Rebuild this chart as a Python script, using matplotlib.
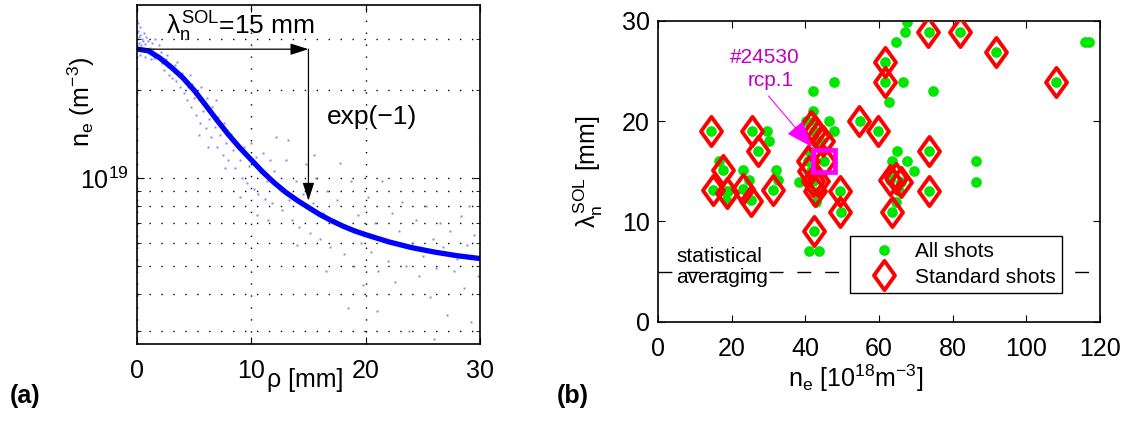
import numpy as np
import matplotlib
matplotlib.use('Agg')
import matplotlib.pyplot as plt
from matplotlib.path import Path
from matplotlib.markers import MarkerStyle
from matplotlib.lines import Line2D
from matplotlib.ticker import NullFormatter, FixedLocator

plt.rcParams['font.family'] = ['Liberation Sans', 'DejaVu Sans']
plt.rcParams['mathtext.fontset'] = 'custom'
plt.rcParams['mathtext.rm'] = 'Liberation Sans'
plt.rcParams['mathtext.it'] = 'Liberation Sans'
plt.rcParams['mathtext.bf'] = 'Liberation Sans:bold'
plt.rcParams['mathtext.sf'] = 'Liberation Sans'

# ---- panel (a): fitted profile (rho in mm, ne in 1e18 m^-3)
rho_fit = [0, 1, 2, 3, 4, 5, 6, 7, 8, 9, 10, 11, 12, 13, 14, 15, 16, 17, 18, 19, 20, 22, 24, 26, 28, 30]
ne_fit = [27.7, 27.3, 25.8, 24.0, 22.1, 20.0, 17.8, 15.8, 14.1, 12.7, 11.55, 10.5, 9.65, 8.95, 8.4, 7.93,
          7.5, 7.15, 6.85, 6.6, 6.4, 6.05, 5.78, 5.58, 5.42, 5.3]

# raw probe samples (rho, ne)
raw_rho = [0.05, 0.1, 0.15, 0.2, 0.25, 0.3, 0.35, 0.4, 0.5, 0.55, 0.6, 0.7, 0.8, 0.9, 1.0, 1.1, 1.2, 1.3, 1.4, 1.6,
           1.7, 1.9, 2.0, 2.1, 0.3, 0.7, 1.2, 1.5,
           2.2, 2.4, 2.5, 2.7, 2.8, 3.0, 3.1, 3.3, 3.4, 3.6, 3.8, 3.9, 4.1, 4.2, 4.4, 4.5, 4.7, 4.8, 5.0, 2.6, 3.5, 4.6,
           5.2, 5.3, 5.5, 5.6, 5.8, 6.0, 6.1, 6.3, 6.5, 6.6, 6.8, 7.0, 7.1, 7.3, 7.5, 7.6, 7.8, 8.0, 5.4, 6.2, 6.9, 7.7,
           8.2, 8.4, 8.6, 8.8, 9.0, 9.2, 9.4, 9.6, 9.8, 10.0, 10.2, 10.4, 10.6, 10.8, 11.0, 11.2, 11.4, 11.6, 11.8, 12.0,
           9.0, 10.5, 11.5, 12.2,
           12.4, 12.7, 13.0, 13.3, 13.6, 13.9, 14.2, 14.5, 14.8, 15.1, 15.4, 15.7, 16.0, 16.3, 16.6, 16.9, 17.2, 17.5,
           17.8, 18.1, 18.4, 18.7, 19.0, 19.3, 19.6, 19.8, 16.5, 18.5, 14.0, 13.2, 15.5,
           20.2, 20.5, 20.8, 21.1, 21.4, 21.7, 22.0, 22.3, 22.6, 22.9, 23.2, 23.5, 23.8, 24.1, 24.4, 24.7, 25.0, 25.3,
           25.6, 25.9, 26.2, 26.5, 26.8, 27.1, 27.4, 27.7, 28.0, 28.3, 28.6, 28.9, 29.2, 29.5, 29.8, 21.0, 26.0, 29.0]
raw_ne = [34, 32, 30.5, 29, 33, 31, 28.5, 30, 29.5, 27.5, 31.5, 28.8, 30.5, 27.2, 29.5, 28, 26.8, 29, 27.8, 30,
          26.5, 28.5, 25.8, 27, 26.5, 26, 25.5, 25.8,
          24.8, 23.5, 25.5, 24, 22.5, 23.8, 22, 24.5, 21.5, 22.5, 20.5, 23, 19.5, 21.8, 18.5, 20.5, 17.5, 21, 18.8, 26.5, 25, 22.5,
          16.5, 19.5, 15.5, 20.5, 17, 14.8, 18.8, 16, 13.8, 17.5, 15, 12.8, 16.2, 14, 12, 15.5, 13.2, 11.5, 14, 12.8, 18.5, 10.8,
          14.2, 12.5, 10.8, 13, 11.5, 10, 12.8, 9.6, 11, 13.2, 9.2, 11.8, 8.8, 10.5, 12.2, 8.5, 9.8, 11.5, 8.2, 10.6,
          8.6, 7.5, 7.2, 13.8,
          9.2, 7.8, 11.5, 8.4, 7.2, 9.8, 6.8, 8.8, 11.2, 6.5, 8.2, 10, 6.2, 7.6, 9, 5.8, 7.2, 8.4,
          11.3, 5.5, 6.8, 9.8, 5.0, 7.5, 6.0, 4.3, 4.8, 3.6, 5.9, 13.5, 12.0,
          8.6, 5.6, 7.0, 4.8, 9.8, 6.2, 5.2, 7.6, 4.4, 6.6, 8.3, 5.0, 3.0, 6.0, 7.2, 4.6, 5.4, 8.0,
          3.9, 6.2, 4.9, 7.0, 5.8, 3.4, 6.6, 4.8, 5.3, 7.4, 4.2, 5.9, 3.2, 6.4, 4.6, 3.5, 2.8, 8.0]

# ---- panel (b): decay lengths vs density
all_ne = [14.3, 16.6, 15.0, 17.7, 18.2, 19.1, 18.5, 23.0, 23.0, 24.8, 25.4, 25.3, 27.2, 29.7, 30.1, 31.3, 32.0, 32.5,
          37.9, 38.4, 40.3, 42.0, 42.0, 42.3, 42.3, 41.0, 40.6, 42.3, 42.3, 43.0, 43.0, 42.3, 41.1, 43.6, 46.4, 47.8,
          47.9, 45.0, 49.4, 49.7, 44.0, 41.5, 42.0,
          54.8, 59.7, 61.5, 61.7, 62.8, 64.7, 67.1, 67.7, 66.5, 74.8, 73.5, 82.1, 91.7, 108.0, 115.9, 117.0, 86.4, 86.3,
          63.6, 64.9, 67.5, 69.5, 63.4, 64.7, 65.4, 63.1, 65.9, 73.5, 73.5, 63.2]
all_lam = [19.0, 16.0, 13.1, 15.1, 13.0, 13.0, 12.1, 15.1, 13.2, 14.1, 19.0, 12.1, 17.0, 19.0, 18.0, 13.1, 15.1, 14.1,
           19.0, 13.9, 20.0, 23.0, 21.0, 20.0, 19.0, 17.0, 16.0, 16.0, 14.9, 12.9, 11.9, 9.0, 7.0, 7.0, 20.0, 23.9,
           19.0, 16.0, 13.0, 10.9, 18.0, 15.0, 14.0,
           20.0, 19.0, 25.9, 23.9, 21.9, 27.9, 28.9, 29.9, 23.9, 23.0, 28.9, 28.9, 26.9, 23.9, 27.9, 27.9, 16.0, 13.9,
           16.0, 17.0, 16.0, 15.0, 10.9, 11.9, 13.0, 14.1, 13.9, 17.0, 13.0, 14.9]

std_ne = [14.3, 15.0, 17.7, 18.8, 23.0, 25.4, 25.3, 27.2, 31.3,
          41.5, 42.5, 43.5, 44.8, 40.6, 41.0, 42.0, 42.5, 43.5, 45.0, 42.3, 49.4, 49.5,
          54.6, 59.7, 61.5, 61.5, 63.1, 64.5, 65.9, 63.4, 73.3, 73.5, 73.5, 82.1, 91.7, 108.0]
std_lam = [19.0, 13.1, 15.1, 12.8, 13.2, 19.0, 12.0, 17.0, 13.1,
           19.5, 19.0, 18.5, 18.0, 16.0, 15.0, 14.0, 13.0, 14.0, 16.0, 9.0, 13.0, 10.9,
           20.0, 19.0, 25.9, 23.9, 14.1, 14.3, 13.9, 10.9, 28.9, 17.0, 13.0, 28.9, 26.9, 23.9]

shot_ne, shot_lam = 45.0, 16.0
stat_limit = 5.0

fig = plt.figure(figsize=(11.29, 4.21), dpi=100)
axA = fig.add_axes([0.1213, 0.1829, 0.3038, 0.8052])
axB = fig.add_axes([0.5828, 0.2359, 0.3915, 0.7150])

# ---------- (a)
raw_ne_m = [v * 1e18 for v in raw_ne]
fit_ne_m = [v * 1e18 for v in ne_fit]
axA.plot(raw_rho, raw_ne_m, 's', color=(0.35, 0.35, 1.0), ms=1.4, mew=0, alpha=0.75)
axA.plot(rho_fit, fit_ne_m, '-', color='#0000ff', lw=3.8, solid_capstyle='butt', solid_joinstyle='round')
axA.set_yscale('log')
axA.set_xlim(0, 30)
axA.set_ylim(2.70e18, 3.92e19)
axA.set_xticks([0, 10, 20, 30])
axA.yaxis.set_major_locator(FixedLocator([1e19]))
axA.yaxis.set_minor_locator(FixedLocator([3e18, 4e18, 5e18, 6e18, 7e18, 8e18, 9e18, 2e19, 3e19]))
axA.yaxis.set_minor_formatter(NullFormatter())
axA.grid(True, which='both', color='k', linestyle=(0, (1, 7.6)), lw=1.0)
axA.tick_params(which='both', direction='in', top=True, right=True, labelsize=18)
axA.tick_params(axis='x', pad=11)
axA.tick_params(axis='y', pad=6)
axA.tick_params(which='major', length=5)
axA.tick_params(which='minor', length=3)

y_top = 2.766e19
axA.annotate('', xy=(15, y_top), xytext=(0, y_top),
             arrowprops=dict(arrowstyle='-|>,head_length=1.1,head_width=0.35', color='k', lw=0.9,
                             shrinkA=0, shrinkB=0, mutation_scale=10))
axA.annotate('', xy=(15, 8.36e18), xytext=(15, y_top),
             arrowprops=dict(arrowstyle='-|>,head_length=1.1,head_width=0.35', color='k', lw=0.9,
                             shrinkA=0, shrinkB=0, mutation_scale=10))
axA.text(2.54, 3.10e19, r'$\lambda_\mathregular{n}^\mathregular{SOL}$=15 mm', fontsize=19, va='baseline', ha='left')
axA.text(16.6, 1.535e19, 'exp(\u22121)', fontsize=19, va='baseline', ha='left')
axA.set_ylabel(r'n$_\mathregular{e}$ (m$^{-3}$)', fontsize=18)
axA.yaxis.set_label_coords(-0.117, 0.714)
for s in axA.spines.values():
    s.set_linewidth(1.2)
fig.text(267 / 1129, 1 - 387 / 421, '\u03c1 [mm]', fontsize=18, va='baseline', ha='left')
fig.text(10 / 1129, 1 - 403 / 421, '(a)', fontsize=18, fontweight='bold', va='baseline', ha='left')

# ---------- (b)
diamond = MarkerStyle(Path([(0, 1), (0.72, 0), (0, -1), (-0.72, 0), (0, 1)],
                           [Path.MOVETO, Path.LINETO, Path.LINETO, Path.LINETO, Path.CLOSEPOLY]),
                      joinstyle='miter')
axB.axhline(stat_limit, color='k', lw=1.0, dashes=(10, 10), zorder=1)
axB.plot(all_ne, all_lam, 'o', color='#00e600', ms=7.7, mew=0, zorder=2)
axB.plot(std_ne, std_lam, linestyle='none', marker=diamond, ms=21, mfc='none', mec='#ff0000', mew=2.8, zorder=3)
axB.plot([shot_ne], [shot_lam], 's', ms=16.5, mfc='none', mec='#ff00ff', mew=3.4, zorder=4)
axB.annotate('', xy=(41.8, 17.4), xytext=(30.0, 22.5),
             arrowprops=dict(arrowstyle='-|>,head_length=1.7,head_width=0.65', color='#ff00ff', lw=0.8,
                             shrinkA=0, shrinkB=0, mutation_scale=10), zorder=5)
axB.text(29.0, 26.35, '#24530', color='#c000c0', fontsize=15, ha='center', va='center')
axB.text(30.7, 24.0, 'rcp.1', color='#c000c0', fontsize=15, ha='center', va='center')
axB.text(4.9, 5.45, 'statistical\naveraging', fontsize=15, ha='left', va='center', linespacing=1.15)

axB.set_xlim(0, 120)
axB.set_ylim(0, 30)
axB.set_xticks([0, 20, 40, 60, 80, 100, 120])
axB.set_yticks([0, 10, 20, 30])
axB.tick_params(direction='in', top=True, right=True, labelsize=18, length=5)
axB.tick_params(axis='x', pad=11)
axB.tick_params(axis='y', pad=6)
for s in axB.spines.values():
    s.set_linewidth(1.2)
axB.set_xlabel(r'n$_\mathregular{e}$ [10$^{18}$m$^{-3}$]', fontsize=18)
axB.xaxis.set_label_coords(0.448, -0.135)
axB.set_ylabel(r'$\lambda_\mathregular{n}^\mathregular{SOL}$ [mm]', fontsize=18)
axB.yaxis.set_label_coords(-0.12, 0.5)

h_all = Line2D([], [], linestyle='none', marker='o', color='#00e600', ms=7.7, mew=0)
h_std = Line2D([], [], linestyle='none', marker=diamond, ms=21, mfc='none', mec='#ff0000', mew=2.8)
leg = axB.legend([h_all, h_std], ['All shots', 'Standard shots'], loc='lower right',
                 bbox_to_anchor=(0.914, 0.096), fontsize=15, frameon=True, fancybox=False,
                 framealpha=1, edgecolor='k', handlelength=2.6, handletextpad=0.2,
                 borderpad=0.3, labelspacing=0.3, borderaxespad=0, numpoints=1)
leg.get_frame().set_linewidth(1.0)
leg.set_zorder(6)
fig.text(557 / 1129, 1 - 403 / 421, '(b)', fontsize=18, fontweight='bold', va='baseline', ha='left')

fig.savefig('out.png', dpi=100)
